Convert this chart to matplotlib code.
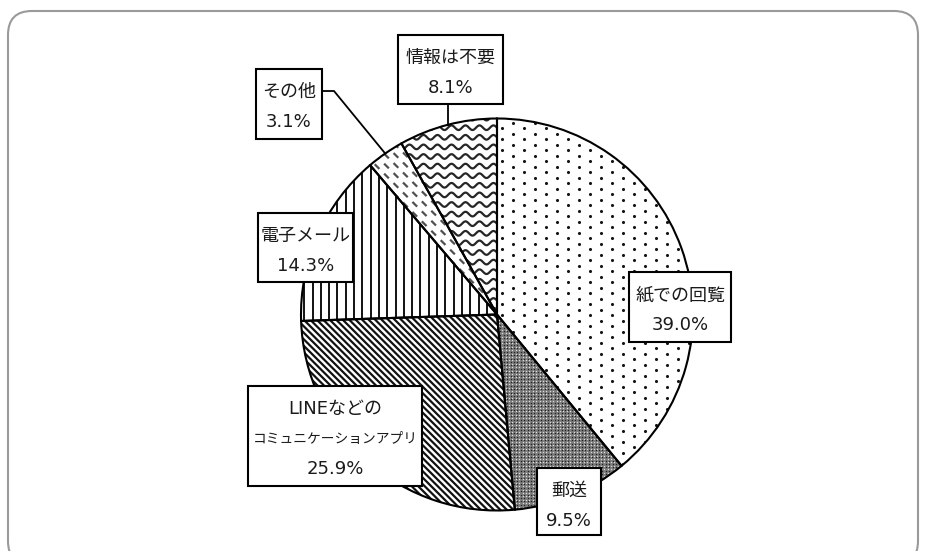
import numpy as np
import matplotlib
matplotlib.use('Agg')
import matplotlib.pyplot as plt
from matplotlib.patches import Wedge, Rectangle, FancyBboxPatch
from matplotlib.collections import LineCollection

plt.rcParams['font.family'] = ['DejaVu Sans', 'Noto Sans CJK JP']

# ---------------- data ----------------
categories = ['紙での回覧', '郵送', 'LINEなどの\nコミュニケーションアプリ', '電子メール', 'その他', '情報は不要']
values = [39.0, 9.5, 25.9, 14.3, 3.1, 8.1]
pct_labels = [f'{v:.1f}%' for v in values]

# ---------------- layout (reference pixel coords, origin top-left) ----------------
W, H = 926, 551
boxes = [(629, 272, 731, 342), (537, 468, 601, 535), (248, 386, 422, 486),
         (258, 213, 353, 282), (256, 69, 322, 139), (398, 35, 503, 104)]

fig = plt.figure(figsize=(W / 100, H / 100), dpi=100)
ax = fig.add_axes([0, 0, 1, 1])


def Y(y):
    return H - y


CX, CY, R = 497, Y(314.5), 196

wedges, _ = ax.pie(values, startangle=90, counterclock=False, center=(CX, CY), radius=R,
                   wedgeprops=dict(facecolor='white', edgecolor='none', linewidth=0))
ax.set_xlim(0, W)
ax.set_ylim(0, H)
ax.set_aspect('equal')
ax.axis('off')

bx0, bx1 = CX - R - 30, CX + R + 30
by0, by1 = CY - R - 30, CY + R + 30

# 0: dots (staggered)
sp = 11
xs, ys = [], []
for i, xx in enumerate(np.arange(bx0, bx1, sp)):
    for yy in np.arange(by0 + (i % 2) * sp / 2, by1, sp):
        xs.append(xx)
        ys.append(yy)
sc = ax.scatter(xs, ys, s=5.0, c='#151515', linewidths=0, zorder=2)
sc.set_clip_path(wedges[0])

# 1: dense checker (gray)
wedges[1].set_facecolor('#7a7a7a')
g = 3.4
gx, gy = np.meshgrid(np.arange(bx0, bx1, g), np.arange(by0, by1, g))
sc2 = ax.scatter(gx.ravel(), gy.ravel(), s=0.9, c='#e0e0e0', linewidths=0, zorder=2)
sc2.set_clip_path(wedges[1])
sc3 = ax.scatter(gx.ravel() + g / 2, gy.ravel() + g / 2, s=0.9, c='#202020', linewidths=0, zorder=2)
sc3.set_clip_path(wedges[1])

# 2: diagonal "\" lines
segs = []
for c in np.arange(bx0 + by0, bx1 + by1, 6.5):
    segs.append([(bx0, c - bx0), (bx1, c - bx1)])
lc = LineCollection(segs, colors='#111111', linewidths=1.6, zorder=2)
ax.add_collection(lc)
lc.set_clip_path(wedges[2])

# 3: vertical lines
segs = [[(x, by0), (x, by1)] for x in np.arange(bx0, bx1, 8.3)]
lc = LineCollection(segs, colors='#111111', linewidths=1.4, zorder=2)
ax.add_collection(lc)
lc.set_clip_path(wedges[3])

# 4: dashed diagonal
segs = []
for c in np.arange(bx0 + by0, bx1 + by1, 10):
    segs.append([(bx0, c - bx0), (bx1, c - bx1)])
lc = LineCollection(segs, colors='#505050', linewidths=1.6, linestyles=[(0, (3, 3))], zorder=2)
ax.add_collection(lc)
lc.set_clip_path(wedges[4])

# 5: waves
xw = np.arange(bx0, bx1, 0.5)
segs = []
for yc in np.arange(by0, by1, 9.6):
    segs.append(np.column_stack([xw, yc + 2.3 * np.sin(2 * np.pi * xw / 14)]))
lc = LineCollection(segs, colors='#262626', linewidths=1.6, zorder=2)
ax.add_collection(lc)
lc.set_clip_path(wedges[5])

# outlines
for w in wedges:
    ax.add_patch(Wedge(w.center, w.r, w.theta1, w.theta2, fill=False,
                       edgecolor='black', linewidth=1.5, zorder=3))

# leaders
mid = []
for w in wedges:
    t = np.deg2rad((w.theta1 + w.theta2) / 2)
    mid.append((CX + R * np.cos(t), CY + R * np.sin(t)))

# その他
px, py = mid[4]
ax.plot([boxes[4][2], 334, px], [Y(91), Y(91), py], color='black', lw=1.3, zorder=4)
# 情報は不要
px, py = mid[5]
ax.plot([px, px], [Y(boxes[5][3]), py], color='black', lw=1.3, zorder=4)

# boxes and texts
for i, (x0, y0, x1, y1) in enumerate(boxes):
    ax.add_patch(Rectangle((x0, Y(y1)), x1 - x0, y1 - y0, facecolor='white',
                           edgecolor='black', linewidth=1.5, zorder=5))
    lines = categories[i].split('\n') + [pct_labels[i]]
    xc = (x0 + x1) / 2
    for j, t in enumerate(lines):
        fs = 13
        if t == 'コミュニケーションアプリ':
            fs = 9.9
        ax.text(xc, Y(y0 + 23 + 30 * j), t, ha='center', va='center', fontsize=fs,
                color='#1a1a1a', zorder=6)

# outer frame
frame = FancyBboxPatch((8, Y(565)), 918 - 8, 565 - 11,
                       boxstyle='round,pad=0,rounding_size=24',
                       facecolor='none', edgecolor='#9a9a9a', linewidth=1.5, zorder=1,
                       clip_on=False)
ax.add_patch(frame)

fig.savefig('out.png', dpi=100)
